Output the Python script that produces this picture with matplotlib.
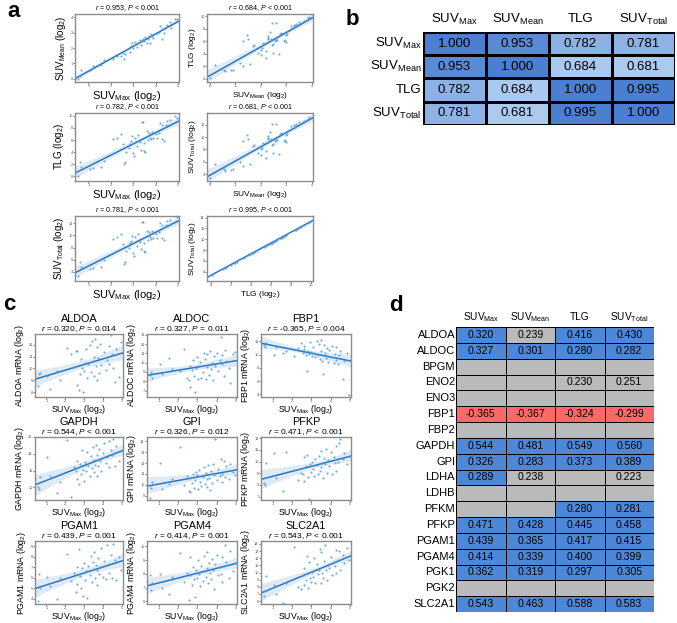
import numpy as np
import matplotlib
matplotlib.use("Agg")
import matplotlib.pyplot as plt
import seaborn as sns
from matplotlib.colors import LinearSegmentedColormap, ListedColormap

plt.rcParams["font.family"] = ["Liberation Sans", "DejaVu Sans"]
plt.rcParams["mathtext.fontset"] = "custom"
plt.rcParams["mathtext.rm"] = "Liberation Sans"
plt.rcParams["mathtext.it"] = "Liberation Sans:italic"
plt.rcParams["mathtext.bf"] = "Liberation Sans:bold"

W, H = 677, 623

# ===================== data: PET parameters (log2) =====================
suv_max = [0.55, 0.62, 0.65, 1.05, 1.2, 1.55, 1.7, 2.1, 2.3, 2.45,
           2.55, 2.6, 2.62, 2.7, 2.8, 2.85, 2.9, 2.95, 3.0, 3.05,
           3.1, 3.15, 3.2, 3.3, 3.35, 3.4, 3.45, 3.5, 3.5, 3.55,
           3.6, 3.65, 3.7, 3.75, 3.8, 3.85, 3.9, 4.0, 4.05, 4.15,
           4.2, 4.3, 4.3, 4.4, 4.45, 4.5, 4.65, 4.7, 4.85, 4.95]
suv_mean = [0.02, 0.22, 0.58, 0.60, 0.85, 0.90, 1.20, 1.30, 1.50, 1.45,
            1.70, 1.30, 1.60, 1.90, 2.00, 1.75, 2.10, 2.30, 2.00, 2.20,
            2.40, 2.05, 2.30, 2.50, 2.20, 2.45, 2.60, 2.50, 2.45, 2.70,
            2.35, 2.55, 2.75, 2.30, 2.90, 2.80, 2.65, 3.00, 2.95, 3.05,
            3.40, 3.20, 2.60, 3.00, 3.35, 3.50, 3.70, 3.30, 3.90, 3.85]
tlg = [0.1, 2.3, 1.5, 1.2, 1.4, 1.5, 2.6, 6.1, 6.4, 7.0,
       5.3, 2.0, 2.4, 4.1, 4.7, 5.4, 5.8, 6.6, 3.8, 3.3,
       6.4, 5.0, 6.9, 5.6, 4.4, 8.9, 8.9, 4.2, 5.5, 4.0,
       7.5, 6.0, 7.2, 6.4, 6.1, 7.4, 6.3, 7.0, 6.3, 7.2,
       8.8, 8.5, 6.2, 5.9, 8.4, 9.1, 9.3, 8.6, 9.9, 9.7]
suv_total = [3.4, 5.6, 4.8, 4.5, 4.7, 4.8, 5.9, 9.4, 9.7, 10.3,
             8.6, 5.3, 5.7, 7.4, 8.0, 8.7, 9.1, 9.9, 7.1, 6.6,
             9.7, 8.3, 10.2, 8.9, 7.7, 12.2, 12.2, 7.5, 8.8, 7.3,
             10.8, 9.3, 10.5, 9.7, 9.4, 10.7, 9.6, 10.3, 9.6, 10.5,
             12.1, 11.8, 9.5, 9.2, 11.7, 12.4, 12.6, 11.9, 13.2, 13.0]

# ===================== data: mRNA (log2) per gene =====================
aldoa = [8.5, 9.5, 9.6, 9.4, 8.3, 9.8, 9.0, 11.7, 11.2, 10.1,
         11.5, 8.6, 11.5, 8.2, 9.5, 10.8, 10.0, 8.0, 9.8, 10.5,
         11.6, 9.2, 10.4, 12.0, 9.7, 12.3, 10.6, 9.4, 11.0, 12.5,
         10.2, 9.0, 11.8, 10.9, 9.6, 12.1, 10.3, 12.9, 11.4, 9.9,
         10.7, 11.9, 10.4, 12.8, 11.2, 10.0, 8.9, 11.6, 9.3, 12.2]
aldoc = [8.7, 9.0, 8.3, 9.9, 8.8, 10.5, 9.3, 9.1, 11.5, 8.4,
         8.1, 9.6, 7.4, 9.2, 10.3, 8.6, 6.8, 9.4, 10.6, 8.2,
         9.7, 10.1, 8.3, 9.0, 11.0, 10.4, 8.2, 9.5, 10.9, 9.8,
         8.7, 11.3, 9.3, 10.0, 8.1, 10.7, 9.6, 11.0, 9.1, 10.3,
         12.8, 9.9, 10.8, 8.6, 11.4, 10.2, 9.4, 7.8, 10.9, 11.2]
fbp1 = [11.5, 11.2, 11.7, 10.0, 11.1, 10.3, 10.6, 9.8, 11.0, 11.7,
        10.2, 10.9, 11.3, 9.9, 7.5, 10.6, 10.1, 11.9, 10.4, 9.8,
        11.2, 10.3, 9.6, 12.1, 10.0, 11.6, 9.3, 12.2, 10.5, 9.1,
        7.0, 11.4, 10.2, 9.5, 11.0, 8.9, 10.7, 9.7, 11.3, 8.8,
        10.1, 9.2, 11.1, 8.6, 9.9, 10.6, 6.3, 9.0, 10.3, 3.9]
gapdh = [10.1, 9.8, 11.2, 13.6, 11.3, 9.3, 10.7, 15.7, 8.8, 12.4,
         12.0, 11.0, 13.2, 10.4, 12.8, 11.6, 14.5, 12.1, 10.8, 13.0,
         11.9, 14.2, 12.6, 11.3, 13.7, 12.3, 14.8, 11.8, 13.3, 12.7,
         15.0, 11.4, 13.9, 12.5, 14.6, 13.1, 12.0, 14.1, 15.3, 12.9,
         13.6, 15.5, 12.4, 14.4, 13.8, 15.8, 12.6, 14.9, 13.2, 14.3]
gpi = [8.8, 9.7, 10.3, 12.0, 9.6, 10.1, 10.5, 13.5, 10.0, 10.8,
       9.4, 10.6, 9.3, 10.2, 11.0, 9.7, 10.4, 11.2, 10.9, 9.6,
       11.4, 10.3, 9.9, 10.7, 11.6, 10.1, 11.1, 9.8, 10.5, 11.8,
       10.6, 9.5, 11.3, 10.2, 11.9, 10.9, 14.2, 10.4, 11.5, 10.8,
       12.4, 11.0, 10.3, 12.2, 10.7, 11.7, 10.5, 11.9, 11.2, 10.9]
pfkp = [8.2, 8.0, 9.9, 10.7, 8.6, 7.5, 10.8, 9.3, 8.4, 9.0,
        8.9, 8.3, 10.4, 9.6, 10.6, 8.7, 6.8, 9.8, 9.1, 10.0,
        9.4, 8.8, 10.2, 9.7, 8.9, 10.5, 9.2, 10.9, 9.5, 9.9,
        8.6, 10.3, 9.8, 11.1, 9.0, 10.1, 9.6, 10.8, 8.9, 10.4,
        9.9, 11.3, 9.2, 10.0, 11.6, 11.9, 10.2, 10.7, 9.8, 10.5]
pgam1 = [3.8, 6.4, 5.0, 6.1, 5.2, 4.0, 6.0, 8.3, 5.7, 6.5,
         4.6, 7.0, 5.4, 8.7, 6.2, 5.0, 6.9, 4.3, 7.4, 5.8,
         6.6, 4.1, 7.1, 6.3, 8.1, 5.6, 7.5, 6.8, 8.5, 6.0,
         7.2, 5.3, 6.7, 7.9, 6.4, 7.0, 8.8, 6.1, 7.6, 5.9,
         9.1, 7.3, 6.5, 8.2, 6.0, 9.2, 7.7, 5.8, 8.0, 6.7]
pgam4 = [7.9, 6.8, 7.3, 8.0, 7.0, 6.5, 7.8, 9.5, 7.4, 8.1,
         6.1, 7.9, 9.2, 7.2, 8.5, 7.6, 6.3, 8.3, 7.7, 9.0,
         8.0, 7.1, 8.6, 7.5, 9.3, 8.2, 7.8, 9.6, 8.4, 7.3,
         8.8, 8.1, 7.6, 9.1, 8.3, 6.9, 8.7, 9.4, 7.9, 8.5,
         8.0, 9.2, 7.4, 8.6, 10.1, 8.9, 7.7, 9.7, 8.2, 8.8]
slc2a1 = [6.7, 7.4, 9.5, 8.3, 7.0, 5.8, 8.5, 13.6, 8.0, 7.7,
          9.6, 8.2, 10.6, 9.0, 12.3, 7.9, 11.4, 9.2, 8.7, 10.1,
          9.4, 12.0, 8.6, 11.2, 9.8, 10.4, 13.3, 8.5, 12.8, 10.0,
          9.2, 11.6, 13.8, 10.3, 8.9, 11.0, 10.6, 12.2, 9.7, 11.5,
          10.9, 13.1, 9.9, 11.8, 13.0, 10.4, 12.5, 11.3, 13.4, 11.7]

# ===================== data: correlation tables =====================
b_names = ["Max", "Mean", "TLG", "Total"]
b_suvmax = [1.000, 0.953, 0.782, 0.781]
b_suvmean = [0.953, 1.000, 0.684, 0.681]
b_tlg = [0.782, 0.684, 1.000, 0.995]
b_suvtotal = [0.781, 0.681, 0.995, 1.000]

d_genes = ["ALDOA", "ALDOC", "BPGM", "ENO2", "ENO3", "FBP1", "FBP2", "GAPDH", "GPI",
           "LDHA", "LDHB", "PFKM", "PFKP", "PGAM1", "PGAM4", "PGK1", "PGK2", "SLC2A1"]
nan = np.nan
d_suvmax = [0.320, 0.327, nan, nan, nan, -0.365, nan, 0.544, 0.326,
            0.289, nan, nan, 0.471, 0.439, 0.414, 0.362, nan, 0.543]
d_suvmean = [0.239, 0.301, nan, nan, nan, -0.367, nan, 0.481, 0.283,
             0.238, nan, nan, 0.428, 0.365, 0.339, 0.319, nan, 0.463]
d_tlg = [0.416, 0.280, nan, 0.230, nan, -0.324, nan, 0.549, 0.373,
         nan, nan, 0.280, 0.445, 0.417, 0.400, 0.297, nan, 0.588]
d_suvtotal = [0.430, 0.282, nan, 0.251, nan, -0.299, nan, 0.560, 0.389,
              0.223, nan, 0.281, 0.458, 0.415, 0.399, 0.305, nan, 0.583]


def box(l, t, r, b):
    # pixel box -> figure fraction
    return [l / W, 1 - b / H, (r - l) / W, (b - t) / H]


def suv(s):
    return r"SUV$_{\mathrm{%s}}$" % s


def lg(s):
    return s + r" (log$_{2}$)"


PT_COLOR = "#4f9ad9"
LINE_COLOR = "#2a78c2"


def reg_panel(ax, x, y, xlim, ylim, xticks, yticks):
    ax.set_xlim(xlim)
    sns.regplot(x=np.array(x), y=np.array(y), ax=ax, truncate=False, seed=1,
                color=LINE_COLOR,
                scatter_kws={"s": 2.5, "color": PT_COLOR, "linewidths": 0, "zorder": 3},
                line_kws={"lw": 1.1})
    ax.set_xlim(xlim)
    ax.set_ylim(ylim)
    ax.set_xticks(xticks)
    ax.set_yticks(yticks)
    ax.set_xlabel("")
    ax.tick_params(labelsize=2.8, length=1.2, width=0.5, pad=0.5, colors="#555555")
    for s in ax.spines.values():
        s.set_color("#8c8c8c")
        s.set_linewidth(1)


def top_text(ax, txt, dy, size):
    ax.annotate(txt, xy=(0.5, 1), xycoords="axes fraction", xytext=(0, dy),
                textcoords="offset points", ha="center", va="center", fontsize=size)


def bottom_label(ax, txt, size, dy):
    # x label placed by its baseline, dy in points below the axes
    ax.annotate(txt, xy=(0.5, 0), xycoords="axes fraction", xytext=(0, dy),
                textcoords="offset points", ha="center", va="baseline", fontsize=size)


fig = plt.figure(figsize=(W / 100, H / 100), dpi=100)

# ===================== a =====================
a_cols = [(75, 179), (207, 313)]
a_rows = [(14, 82), (113, 181), (216, 281)]
a_panels = [
    (suv_max, suv_mean, lg(suv("Max")), lg(suv("Mean")), "0.953",
     (0.4, 5.05), (-0.2, 4.2), [1, 2, 3, 4, 5], [0, 1, 2, 3, 4]),
    (suv_mean, tlg, lg(suv("Mean")), lg("TLG"), "0.684",
     (-0.1, 4.05), (-0.5, 10.4), [0, 1, 2, 3, 4], [0, 2, 4, 6, 8, 10]),
    (suv_max, tlg, lg(suv("Max")), lg("TLG"), "0.782",
     (0.4, 5.05), (-0.75, 10.45), [1, 2, 3, 4, 5], [0, 2, 4, 6, 8, 10]),
    (suv_mean, suv_total, lg(suv("Mean")), lg(suv("Total")), "0.681",
     (-0.1, 4.05), (2.9, 13.9), [0, 1, 2, 3, 4], [4, 6, 8, 10, 12]),
    (suv_max, suv_total, lg(suv("Max")), lg(suv("Total")), "0.781",
     (0.4, 5.05), (2.5, 13.2), [1, 2, 3, 4, 5], [4, 6, 8, 10, 12]),
    (tlg, suv_total, lg("TLG"), lg(suv("Total")), "0.995",
     (-0.35, 10.2), (2.3, 14.3), [0, 2, 4, 6, 8, 10], [4, 6, 8, 10, 12, 14]),
]
for i, (x, y, xl, yl, r, xlim, ylim, xt, yt) in enumerate(a_panels):
    row, col = divmod(i, 2)
    l, rr = a_cols[col]
    t, b = a_rows[row]
    ax = fig.add_axes(box(l, t, rr, b))
    reg_panel(ax, x, y, xlim, ylim, xt, yt)
    xs, ys = (8.0, 7.0) if col == 0 else (6.0, 6.0)
    bottom_label(ax, xl, xs, -12.0 if col == 0 else -10.6)
    ax.set_ylabel(yl, fontsize=ys, labelpad=1.5)
    top_text(ax, r"$\it{r}$ = %s, $\it{P}$ < 0.001" % r, 4.3, 5.1)

# ===================== b =====================
cmap_b = LinearSegmentedColormap.from_list("b", ["#abcaee", "#4a7fd1"])
mat_b = np.array([b_suvmax, b_suvmean, b_tlg, b_suvtotal])
ax_b = fig.add_axes(box(423, 32, 675, 125))
ax_b.pcolormesh(mat_b, cmap=cmap_b, vmin=0.68, vmax=1.0, edgecolors="black", linewidth=0.8)
ax_b.set_xlim(0, 4)
ax_b.set_ylim(4, 0)
ax_b.set_axis_off()
b_labels = [suv(n) if n != "TLG" else "TLG" for n in b_names]
for i in range(4):
    ax_b.text(i + 0.5, -0.55, b_labels[i], ha="center", va="center", fontsize=9.5)
    ax_b.text(-0.02, i + 0.5, b_labels[i], ha="right", va="center", fontsize=9.5)
    for j in range(4):
        ax_b.text(j + 0.5, i + 0.5, "%.3f" % mat_b[i, j], ha="center", va="center", fontsize=9.5)

# ===================== c =====================
c_cols = [(35, 123), (147, 237), (261, 351)]
c_rows = [(334, 397), (437, 500), (541, 604)]
c_panels = [
    ("ALDOA", aldoa, "0.320", "= 0.014", (7.6, 12.9), range(8, 13)),
    ("ALDOC", aldoc, "0.327", "= 0.011", (6.3, 13.1), range(7, 14)),
    ("FBP1", fbp1, "-0.365", "= 0.004", (3.6, 13.1), range(4, 13, 2)),
    ("GAPDH", gapdh, "0.544", "< 0.001", (8.5, 16.0), range(10, 17, 2)),
    ("GPI", gpi, "0.326", "= 0.012", (8.6, 14.4), range(9, 15)),
    ("PFKP", pfkp, "0.471", "< 0.001", (6.7, 12.1), range(7, 13)),
    ("PGAM1", pgam1, "0.439", "= 0.001", (3.5, 9.5), range(4, 10)),
    ("PGAM4", pgam4, "0.414", "= 0.001", (5.8, 10.4), range(6, 11)),
    ("SLC2A1", slc2a1, "0.543", "< 0.001", (5.6, 14.4), range(6, 15)),
]
for i, (gene, y, r, p, ylim, yt) in enumerate(c_panels):
    row, col = divmod(i, 3)
    l, rr = c_cols[col]
    t, b = c_rows[row]
    ax = fig.add_axes(box(l, t, rr, b))
    reg_panel(ax, suv_max, y, (0.4, 5.05), ylim, [1, 2, 3, 4, 5], list(yt))
    bottom_label(ax, lg(suv("Max")), 6.3, -10.6)
    ax.set_ylabel(lg(gene + " mRNA"), fontsize=6.3, labelpad=1.5)
    top_text(ax, gene, 11.0, 7.8)
    top_text(ax, r"$\it{r}$ = %s, $\it{P}$ %s" % (r, p), 3.8, 6.0)

# ===================== d =====================
mat_d = np.array([d_suvmax, d_suvmean, d_tlg, d_suvtotal]).T
codes = np.where(np.isnan(mat_d) | (np.abs(np.nan_to_num(mat_d)) < 0.26), 0,
                 np.where(np.nan_to_num(mat_d) > 0, 1, 2))
ax_d = fig.add_axes(box(456, 327, 654, 612))
ax_d.pcolormesh(codes, cmap=ListedColormap(["#bababa", "#4d88d8", "#ff6868"]),
                vmin=-0.5, vmax=2.5, edgecolors="black", linewidth=0.6)
ax_d.set_xlim(0, 4)
ax_d.set_ylim(len(d_genes), 0)
ax_d.set_axis_off()
for j in range(4):
    ax_d.text(j + 0.5, -0.6, b_labels[j], ha="center", va="center", fontsize=7.3)
for i, g in enumerate(d_genes):
    ax_d.text(-0.02, i + 0.5, g, ha="right", va="center", fontsize=8)
    for j in range(4):
        v = mat_d[i, j]
        if not np.isnan(v):
            ax_d.text(j + 0.5, i + 0.5, "%.3f" % v, ha="center", va="center", fontsize=7.6)

# panel letters
for letter, x, y in [("a", 7, 17), ("b", 346, 25), ("c", 3, 310), ("d", 389, 311)]:
    fig.text(x / W, 1 - y / H, letter, fontsize=16, fontweight="bold", ha="left", va="baseline")

fig.savefig("out.png", dpi=100)
